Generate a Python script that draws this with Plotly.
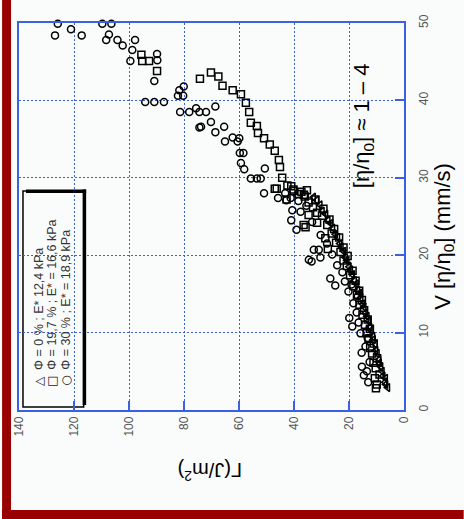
import plotly.graph_objects as go

# ---------------- data (Γ in J/m², V[η/η0] in mm/s) ----------------
G_tri = [5.9, 6.6, 6.9, 6.7, 7.6, 7.9, 8.4, 8.9, 9.1, 9.7, 10.2, 10.4, 11.1, 11.3, 11.9, 12.4,
         12.9, 13.4, 14.0, 14.5, 15.0, 15.6, 16.1, 16.8, 17.3, 18.0, 18.7, 19.4, 19.9, 20.7,
         21.3, 21.9, 22.8, 23.3, 24.1, 24.9, 25.9, 26.6, 27.6, 28.4, 29.7, 30.5, 31.7, 32.9]
V_tri = [2.9, 3.3, 3.6, 4.1, 4.4, 5.0, 5.6, 6.1, 6.5, 7.3, 7.7, 8.5, 9.1, 9.5, 10.3, 10.7,
         11.5, 12.1, 12.5, 13.3, 13.7, 14.5, 15.1, 15.5, 16.3, 16.7, 17.5, 18.1, 18.5, 19.3,
         19.7, 20.5, 21.1, 21.5, 22.3, 22.7, 23.5, 24.1, 24.5, 25.3, 25.7, 26.5, 27.1, 27.5]

G_sq = [10.2, 9.9, 10.6, 8.9, 10.3, 11.1, 9.8, 11.6, 12.3, 11.0, 12.9, 13.6, 12.4, 14.2, 13.2,
        15.1, 14.5, 16.2, 15.3, 17.1, 16.3, 18.4, 17.6, 19.6, 18.7, 20.8, 22.0, 20.5, 23.1, 22.0,
        24.7, 23.6, 26.3, 25.4, 27.9, 27.1, 29.8, 31.6, 29.3, 33.1, 34.7, 32.2, 36.1, 38.3, 35.3,
        40.2, 42.4, 44.3, 45.1,
        28.6, 27.7, 34.7, 36.5, 31.6, 35.8, 42.7, 47.0, 46.3, 41.0, 40.2, 37.3, 36.4,
        45.5, 47.0, 48.8, 50.9, 53.1, 53.5, 55.7, 56.3, 57.5, 59.3, 62.3, 66.0, 67.5, 70.2,
        74.2, 89.8, 92.7, 95.2, 95.5]
V_sq = [2.8, 3.3, 4.1, 4.6, 5.4, 6.1, 6.7, 7.3, 8.0, 8.6, 9.2, 9.9, 10.5, 11.0, 11.7,
        12.3, 12.9, 13.6, 14.2, 14.9, 15.4, 16.0, 16.7, 17.4, 18.0, 18.6, 19.3, 19.9, 20.4, 21.0,
        21.6, 22.3, 22.8, 23.4, 23.9, 24.6, 25.1, 25.5, 26.0, 26.2, 26.8, 27.2, 27.6, 27.9, 28.4,
        28.5, 29.0, 30.0, 31.4,
        22.2, 20.8, 25.2, 23.9, 24.2, 23.6, 27.2, 28.6, 28.6, 28.9, 28.3, 28.2, 27.8,
        32.3, 33.5, 34.3, 35.1, 35.8, 36.7, 37.1, 38.5, 39.7, 40.8, 41.3, 41.9, 43.1, 43.6,
        42.8, 43.8, 45.1, 45.1, 45.9]

G_ci = [13.0, 14.6, 15.3, 15.4, 13.5, 12.5, 14.0, 13.2, 15.8, 18.8, 19.9, 16.5, 17.2, 18.4, 16.8,
        20.2, 19.1, 21.5, 25.0, 26.8, 22.4, 24.3, 34.6, 33.6, 30.4, 32.8, 31.0, 26.1, 28.0, 30.3,
        39.1, 41.0, 40.6, 37.6, 33.4, 35.5, 38.4, 41.2, 43.2, 45.8, 50.9, 52.1, 53.5, 55.7, 50.6,
        58.1, 59.3, 59.7, 58.4, 60.5, 59.9, 62.3, 65.1, 65.4, 68.6, 70.2, 73.8, 68.6, 72.0, 74.4,
        75.6, 78.1, 81.4, 80.3, 82.2, 80.1, 81.7, 87.3, 90.8, 94.1, 90.8, 89.7, 89.8, 99.5, 98.8,
        97.8, 102.3, 104.2, 108.3, 107.3, 106.4, 109.7, 117.2, 121.1, 126.9, 125.9, 74.4, 42.8]
V_ci = [3.6, 4.5, 5.6, 7.4, 5.0, 6.2, 8.2, 9.3, 9.9, 10.8, 11.9, 11.3, 12.6, 13.8, 14.7,
        15.3, 16.2, 16.6, 16.1, 17.0, 17.8, 18.7, 19.4, 19.2, 19.7, 20.7, 20.7, 20.1, 21.5, 22.6,
        23.3, 24.5, 25.8, 25.6, 24.3, 26.4, 27.0, 27.4, 28.0, 27.4, 28.0, 29.9, 29.9, 29.9, 31.2,
        31.1, 31.9, 33.2, 33.2, 34.7, 35.1, 35.2, 34.7, 36.6, 35.9, 37.2, 36.6, 39.2, 38.5, 38.5,
        39.0, 38.5, 38.5, 40.6, 40.6, 41.8, 41.3, 39.8, 39.8, 39.8, 42.5, 45.2, 46.0, 45.1, 46.5,
        47.8, 47.1, 47.8, 47.8, 48.5, 49.9, 49.9, 48.4, 49.2, 48.4, 49.9, 36.5, 27.1]

legend_labels = ["Φ = 0 % ; E* 12,4 kPa",
                 "Φ = 19,7 % ; E* = 16,6 kPa",
                 "Φ = 30 % ; E* = 18,9 kPa"]
legend_symbols = ["△", "□", "○"]
G_ticks = [0, 20, 40, 60, 80, 100, 120, 140]
V_ticks = [0, 10, 20, 30, 40, 50]

# ---------------- layout helpers ----------------
W, H = 464, 519
L, R, T, B = 17, 404, 23, 410
BLUE = "#3a60e6"
BG = "#fafcfc"


def px(x):
    return (x - L) / (R - L)


def py(y):
    return (B - y) / (B - T)


fig = go.Figure()
mk = dict(color="black", size=7, line=dict(width=1.5, color="black"))
fig.add_trace(go.Scatter(x=G_ci, y=V_ci, mode="markers", cliponaxis=False,
                         marker=dict(symbol="circle-open", **mk)))
fig.add_trace(go.Scatter(x=G_sq, y=V_sq, mode="markers", cliponaxis=False,
                         marker=dict(symbol="square-open", **mk)))
fig.add_trace(go.Scatter(x=G_tri, y=V_tri, mode="markers", cliponaxis=False,
                         marker=dict(symbol="triangle-left-open", **mk)))

axis_common = dict(showline=True, linecolor=BLUE, linewidth=1.5, mirror=True,
                   ticks="inside", ticklen=9, tickwidth=1.5, tickcolor=BLUE,
                   showgrid=True, gridcolor=BLUE, gridwidth=1.3, griddash="2px,2px",
                   zeroline=False, tickangle=-90,
                   tickfont=dict(family="Liberation Sans, Arial", size=12, color="#555"))

fig.update_layout(
    width=W, height=519, showlegend=False,
    margin=dict(l=L, r=W - R, t=T, b=H - B, pad=0),
    paper_bgcolor=BG, plot_bgcolor=BG,
    xaxis=dict(range=[140, 0], tickvals=G_ticks, ticktext=[str(v) for v in G_ticks], **axis_common),
    yaxis=dict(range=[0, 50], side="right", tickvals=V_ticks, ticktext=[str(v) for v in V_ticks],
               ticklabelstandoff=8, **axis_common),
)

shapes = []
# white box behind the viscosity note and the legend
shapes.append(dict(type="rect", xref="paper", yref="paper", x0=px(342), x1=px(384), y0=py(212), y1=py(40),
                   fillcolor=BG, line=dict(width=0), layer="between"))
shapes.append(dict(type="rect", xref="paper", yref="paper", x0=px(21), x1=px(82), y0=py(407), y1=py(191),
                   fillcolor=BG, line=dict(width=1.5, color="black"), layer="between"))
shapes.append(dict(type="rect", xref="paper", yref="paper", x0=px(81), x1=px(84.5), y0=py(405), y1=py(189.5),
                   fillcolor="black", line=dict(width=0), layer="above"))
shapes.append(dict(type="rect", xref="paper", yref="paper", x0=px(24), x1=px(84.5), y0=py(193), y1=py(189.5),
                   fillcolor="black", line=dict(width=0), layer="above"))
# dark red frame on left and bottom
shapes.append(dict(type="rect", xref="paper", yref="paper", x0=px(0), x1=px(9), y0=py(519), y1=py(0),
                   fillcolor="#990000", line=dict(width=0), layer="above"))
shapes.append(dict(type="rect", xref="paper", yref="paper", x0=px(0), x1=px(464), y0=py(519), y1=py(510),
                   fillcolor="#990000", line=dict(width=0), layer="above"))
fig.update_layout(shapes=shapes)

ann = []
ann.append(dict(x=px(444), y=py(236), xref="paper", yref="paper", showarrow=False, textangle=-90,
                xanchor="center", yanchor="middle",
                text="V [η/η<sub>0</sub>] (mm/s)",
                font=dict(family="Liberation Sans, Arial", size=22, color="black")))
ann.append(dict(x=px(363), y=py(126), xref="paper", yref="paper", showarrow=False, textangle=-90,
                xanchor="center", yanchor="middle",
                text="[η/η<sub>0</sub>] ≈ 1 – 4",
                font=dict(family="Liberation Sans, Arial", size=22, color="black")))
ann.append(dict(x=px(209), y=py(472), xref="paper", yref="paper", showarrow=False, textangle=180,
                xanchor="center", yanchor="middle",
                text="Γ(J/m<sup>2</sup>)",
                font=dict(family="Liberation Sans, Arial", size=20, color="black")))
leg_x = [37, 50, 64]
for xx, sym, lab in zip(leg_x, legend_symbols, legend_labels):
    ann.append(dict(x=px(xx), y=py(381), xref="paper", yref="paper", showarrow=False, textangle=-90,
                    xanchor="center", yanchor="middle",
                    text=sym, font=dict(family="DejaVu Sans", size=12, color="#222")))
    ann.append(dict(x=px(xx), y=py(372), xref="paper", yref="paper", showarrow=False, textangle=-90,
                    xanchor="center", yanchor="bottom", text=lab,
                    font=dict(family="Liberation Sans, Arial", size=12.5, color="#333")))
fig.update_layout(annotations=ann)

fig.write_html("out.html")
